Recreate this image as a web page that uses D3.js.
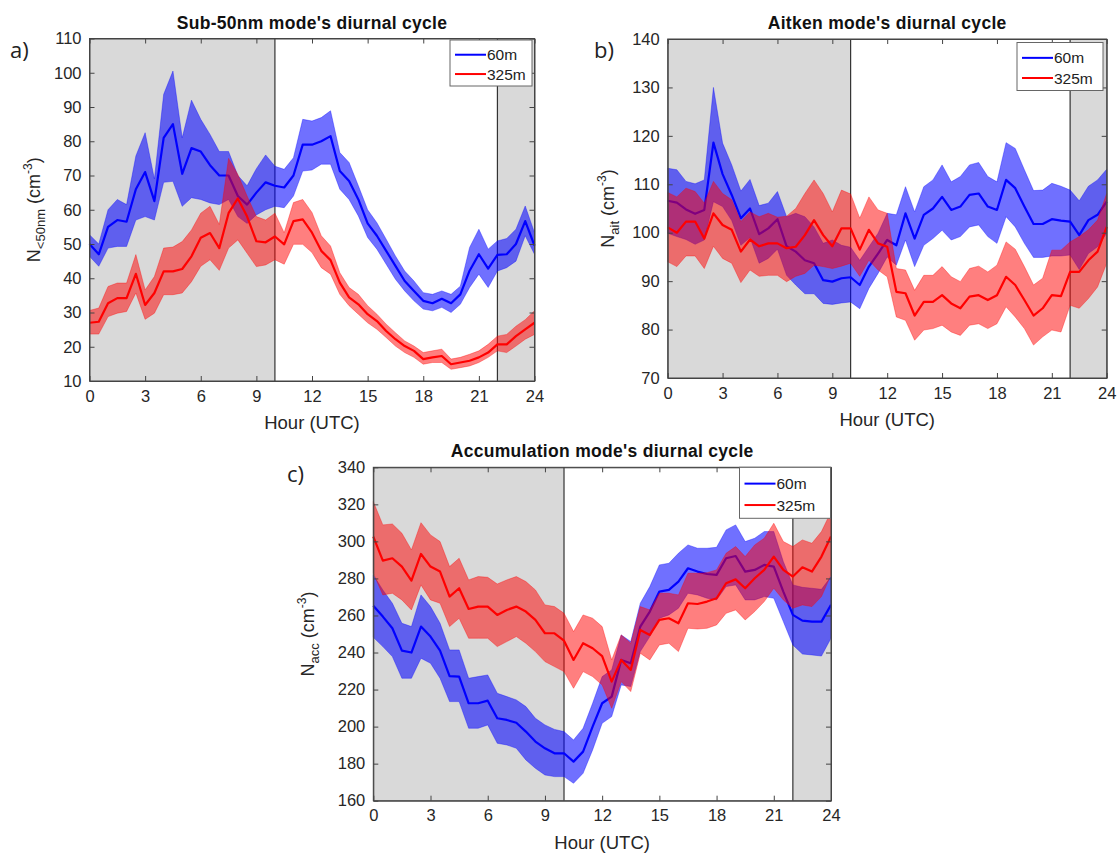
<!DOCTYPE html>
<html>
<head>
<meta charset="utf-8">
<script src="https://cdn.jsdelivr.net/npm/d3@7"></script>
<style>
  body { margin: 0; background: #fff; }
  svg { font-family: "Liberation Sans", Arial, sans-serif; }
</style>
</head>
<body>
<div id="chart"></div>
<script>
// half-hourly diurnal cycles, hour axis
var hours = [0, 0.5, 1, 1.5, 2, 2.5, 3, 3.5, 4, 4.5, 5, 5.5, 6, 6.5, 7, 7.5, 8, 8.5, 9, 9.5, 10,
  10.5, 11, 11.5, 12, 12.5, 13, 13.5, 14, 14.5, 15, 15.5, 16, 16.5, 17, 17.5, 18, 18.5, 19, 19.5,
  20, 20.5, 21, 21.5, 22, 22.5, 23, 23.5, 24];
var hourTicks = [0, 3, 6, 9, 12, 15, 18, 21, 24];
var nightSpans = [[0, 10], [22, 24]];
var seriesNames = ["60m", "325m"];

// a) sub-50nm
var sub50Low60 = [50, 47, 55, 57, 56.5, 66, 71, 62.5, 81, 85, 70.5, 78, 77, 73, 70, 70, 64, 61.5, 65, 68, 67,
  66.5, 70, 79, 79, 80, 81.5, 71.3, 68.4, 63, 56, 52.4, 48, 43.6, 39.2, 36.3, 33.4, 32.7, 34, 32.7, 35.3, 42.2, 47, 42.8, 46.8, 47, 50, 56.7, 49.5];
var sub50Low60Hi = [52.7, 50, 60, 63, 61.5, 75.7, 82.5, 69, 93.7, 100.5, 81, 92, 86.4, 82, 77, 77, 70, 67, 72, 76, 72.7,
  71.8, 75.2, 86.4, 85.9, 86.9, 88.9, 76.7, 73.8, 67, 60, 56.2, 51.4, 46.5, 42.1, 39.2, 35.8, 35.3, 36.3, 35.3, 37.7, 49, 54.3, 48.5, 50.9, 51.6, 54.3, 61.1, 53.3];
var sub50Low60Lo = [46.4, 43.5, 48.8, 49.3, 49.3, 57, 58, 57, 68, 68.3, 61, 63.5, 63, 62, 61.5, 63, 58, 56, 58.5, 60, 61,
  60.6, 64, 71.3, 71.6, 73.3, 73.3, 66, 63, 58.2, 51.9, 48.5, 44.1, 39.7, 36.3, 33.4, 31, 30.5, 31.5, 30, 32.4, 37.3, 41.2, 37.3, 42.1, 43.1, 45, 52.4, 47];
var sub50High325 = [27, 27.3, 32.7, 34.2, 34.2, 41.3, 32.2, 35.7, 42, 42, 42.7, 46.4, 51.8, 53.2, 48.8, 59, 63.3, 58, 50.8, 50.5, 52.2,
  49.9, 56.7, 57.2, 53.3, 48, 45.3, 38.7, 34.4, 32.4, 29.5, 27.5, 24.6, 22.2, 20.2, 18.8, 16.4, 16.9, 17.3, 14.9, 15.4, 15.9, 16.9, 18.3, 20.7, 20.7, 23.1, 25.1, 27];
var sub50High325Hi = [30.6, 31.3, 37.6, 38.6, 38.6, 46.9, 36.6, 40.5, 48.8, 49.1, 50.7, 54.1, 59, 61, 55.7, 75, 70.3, 64, 58, 57, 59,
  53.3, 62.1, 63, 59.2, 52.4, 49.4, 41.6, 37.3, 35.3, 32, 29.5, 26.6, 24.1, 21.7, 20.2, 18.3, 18.8, 19.3, 16.4, 16.9, 17.8, 18.8, 20.7, 23.1, 23.6, 26, 27.9, 30.5];
var sub50High325Lo = [23.7, 23.7, 28.8, 29.8, 30.3, 35.7, 28, 29.8, 35.2, 35.2, 35.7, 39, 43.5, 45.4, 42.3, 48.8, 51.2, 47.3, 43.4, 43.9, 45.4,
  44.1, 49.9, 49.9, 47.5, 43.1, 41.2, 35.3, 32, 29.5, 27, 25.1, 22.7, 20.2, 18.3, 16.9, 14.9, 15.4, 15.4, 13.4, 13.9, 14.4, 15.4, 16.9, 18.8, 18.3, 20.2, 22.2, 23.6];

// b) Aitken
var aitLow60 = [106.6, 106.2, 104.8, 103.9, 104.7, 118.6, 112.1, 107.8, 103, 105, 99.7, 100.9, 102.8, 97.2, 96.1, 94.3, 93.7, 90.2, 89.9, 90.6, 90.8,
  89.2, 93, 95.7, 98.5, 97.4, 104, 98.8, 103.7, 105, 107.4, 104.7, 105.4, 107.8, 108.1, 105.4, 104.7, 110.9, 109.2, 105.4, 101.8, 101.8, 102.8, 102.5, 102.3, 99.5, 102.6, 103.7, 106.4];
var aitLow60Hi = [113.3, 113, 110.6, 110.1, 110.9, 130, 118.5, 114, 108.6, 111, 105.6, 106.1, 108.5, 103.3, 104, 103.3, 101.2, 97.8, 98.5, 97.4, 97,
  94.3, 97.1, 99.9, 104, 103.7, 109.5, 104.3, 109.5, 110.9, 114, 110.5, 111.6, 114, 114.5, 111.6, 110.5, 118.6, 117.4, 113, 108.7, 108.8, 110.2, 109.6, 108.8, 106.6, 109.6, 110.9, 113.1];
var aitLow60Lo = [99.9, 99.2, 98.6, 97.6, 98.5, 106.4, 105.4, 102.5, 97.4, 99, 93.7, 94.7, 96.6, 91.2, 89.2, 87.4, 87.4, 85.4, 85.2, 85.5, 85.7,
  84.3, 88.5, 91.6, 95, 93.3, 98.5, 93, 97.4, 98.8, 100.5, 98.5, 99.2, 101.2, 101.6, 99.2, 97.8, 103.3, 101.2, 97.8, 94.9, 94.9, 95.2, 95.2, 95.4, 92.4, 95.7, 97.1, 99.9];
var aitHigh325 = [101.1, 100, 102.3, 102.3, 98.8, 104, 101.6, 100.6, 96.1, 98.6, 97.2, 97.8, 97.8, 96.8, 97.1, 99.5, 102.6, 99.5, 97.2, 100.9, 100.9,
  96.5, 100.6, 97.8, 97.1, 87.8, 87.5, 82.9, 85.7, 85.7, 87.1, 85.4, 84.4, 86.8, 87.1, 86.1, 87.1, 90.9, 89.2, 86.1, 82.9, 84.4, 87.1, 86.9, 91.9, 91.9, 94.3, 96.1, 101.2];
var aitHigh325Hi = [108.3, 107.4, 109.2, 108.5, 106.1, 110.6, 108.1, 106.8, 102.3, 104.3, 103.3, 104, 103.2, 103.4, 105, 108.1, 110.9, 108.1, 104.3, 108.8, 108,
  103, 107.4, 104.7, 104, 92.6, 92.3, 88.1, 91.2, 91.2, 93, 90.9, 89.9, 92.6, 93.1, 91.9, 93.3, 98.1, 96.6, 93, 89.2, 90.6, 96.4, 96.4, 98.1, 99.2, 100.6, 102.6, 108.1];
var aitHigh325Lo = [94, 93, 95.2, 95.2, 92.6, 97.2, 94.7, 93.7, 89.7, 92.3, 91, 91.2, 91.2, 89.9, 91, 91.6, 93.3, 93, 92.6, 93.1, 93.7,
  91, 94.3, 92.3, 90.9, 82.6, 81.9, 77.8, 79.9, 80.2, 80.9, 79.5, 78.8, 80.9, 81.2, 80.2, 81.2, 84.7, 82.6, 80.2, 76.8, 78.5, 79.9, 79.5, 85, 84.4, 86.4, 88.8, 93.7];

// c) accumulation
var accLow60 = [265.3, 259.4, 253.1, 241, 240, 254, 248.6, 241, 227.3, 227, 212.6, 212.6, 214, 204.5, 203.6, 202.1, 197.3, 191.9, 188.3, 185.6, 185.6,
  181.1, 186.5, 200, 212.6, 216.2, 236, 234.2, 254, 262.1, 272.9, 273.8, 278.3, 285.5, 283.7, 282.4, 281.9, 290.9, 292.1, 283.7, 284.6, 287.3, 286.4, 272.9, 260.3, 257.2, 256.7, 256.7, 265.7];
var accLow60Hi = [281.9, 273.8, 266.6, 255.8, 254, 271.1, 264.8, 255.8, 241.4, 241.4, 226.1, 227, 227.9, 218, 216.2, 214.4, 210.8, 204.5, 200.9, 198.5, 197.3,
  192.8, 199.1, 212.6, 227, 230.6, 249.5, 245.9, 266.6, 275.6, 287.3, 288.2, 293.6, 298.1, 296.3, 296.3, 296.8, 306.2, 308.9, 299.9, 301.7, 305.3, 305.3, 289.1, 276.5, 275.2, 274.7, 274.1, 281];
var accLow60Lo = [248.2, 243.2, 237.8, 226.1, 226.1, 236.9, 234.2, 226.1, 213.5, 213.5, 199.1, 199.1, 200.9, 191, 190.1, 188.3, 182, 177.5, 173.9, 173, 173,
  169.4, 174.8, 187.4, 201.8, 205.4, 222.5, 221.6, 240.5, 248.6, 258.5, 260.3, 263.9, 272, 271.1, 269.3, 268.4, 275.6, 276.5, 268.4, 268.4, 270.2, 269.3, 256.7, 244.1, 239.2, 238.7, 238.1, 247.7];
var accHigh325 = [302.6, 289.6, 290.9, 286.4, 278.8, 293.2, 286.4, 283.7, 270.2, 274.7, 263.5, 264.8, 264.8, 260.3, 263, 264.8, 262.1, 257.6, 250.4, 250.4, 246.4,
  236, 245, 242.3, 238.1, 224.3, 236, 230.6, 252.2, 249.5, 257.6, 258.5, 255.8, 266.6, 266.2, 267.5, 269.3, 277.4, 279.5, 274.7, 280.1, 284.6, 291.8, 284.6, 281, 286, 283.7, 291.8, 302.6];
var accHigh325Hi = [321.5, 308.9, 309.4, 304.4, 295.4, 310.1, 303.5, 299.9, 286.4, 290.9, 279.2, 281, 280.6, 277, 279.2, 281, 278.3, 273.8, 265.7, 264.8, 261.2,
  251.3, 260.3, 258.5, 254, 236, 249.5, 245, 264.8, 263, 272, 272, 271.1, 282.8, 282.8, 283.1, 284.6, 293.6, 297.2, 291.8, 298.1, 301.7, 309.8, 299.9, 297.2, 300.8, 299, 305.3, 316];
var accHigh325Lo = [282.8, 271.1, 272, 268.4, 263, 276.5, 268.4, 266.6, 254, 258.5, 247.7, 247.7, 247.7, 243.2, 245.9, 248.6, 245, 240.5, 235.1, 232.4, 229.7,
  220.7, 229.7, 227, 222.5, 209.9, 224.3, 218.9, 239.6, 236, 244.1, 245, 240.5, 253.1, 252.7, 253.1, 254.9, 261.2, 263, 257.6, 262.1, 267.5, 274.7, 268.4, 263.9, 265.7, 264.8, 270.2, 281.9];

var sub50Ticks = [10, 20, 30, 40, 50, 60, 70, 80, 90, 100, 110];
var aitTicks = [70, 80, 90, 100, 110, 120, 130, 140];
var accTicks = [160, 180, 200, 220, 240, 260, 280, 300, 320, 340];

var colors = ["#0000ff", "#ff0000"];
var bandOpacity = [0.56, 0.5];

var svg = d3.select("#chart").append("svg")
  .attr("width", 1118)
  .attr("height", 859);

var panels = [
  { tag: "a)", tagX: 10, tagY: 58, title: "Sub-50nm mode's diurnal cycle",
    left: 89.5, right: 534.5, top: 38.5, bottom: 381, ticks: sub50Ticks,
    ylab: ["N", "<50nm"], ylabX: 40,
    legend: { x: 450, y: 40, w: 82, h: 46 },
    series: [[sub50Low60, sub50Low60Lo, sub50Low60Hi], [sub50High325, sub50High325Lo, sub50High325Hi]] },
  { tag: "b)", tagX: 594, tagY: 58, title: "Aitken mode's diurnal cycle",
    left: 667.7, right: 1106.7, top: 39, bottom: 378, ticks: aitTicks,
    ylab: ["N", "ait"], ylabX: 614,
    legend: { x: 1017, y: 42.5, w: 86, h: 48 },
    series: [[aitLow60, aitLow60Lo, aitLow60Hi], [aitHigh325, aitHigh325Lo, aitHigh325Hi]] },
  { tag: "c)", tagX: 287, tagY: 482, title: "Accumulation mode's diurnal cycle",
    left: 373.3, right: 831, top: 467.3, bottom: 800.7, ticks: accTicks,
    ylab: ["N", "acc"], ylabX: 314,
    legend: { x: 739.5, y: 467.3, w: 91, h: 51 },
    series: [[accLow60, accLow60Lo, accLow60Hi], [accHigh325, accHigh325Lo, accHigh325Hi]] }
];

panels.forEach(function(p) {
  var x = d3.scaleLinear().domain([0, 24]).range([p.left, p.right]);
  var y = d3.scaleLinear().domain([p.ticks[0], p.ticks[p.ticks.length - 1]]).range([p.bottom, p.top]);
  var g = svg.append("g");

  // night shading
  nightSpans.forEach(function(s) {
    g.append("rect")
      .attr("x", x(s[0])).attr("y", p.top)
      .attr("width", x(s[1]) - x(s[0])).attr("height", p.bottom - p.top)
      .attr("fill", "#d9d9d9");
  });
  [10, 22].forEach(function(h) {
    g.append("line")
      .attr("x1", x(h)).attr("x2", x(h))
      .attr("y1", p.top).attr("y2", p.bottom)
      .attr("stroke", "#333").attr("stroke-width", 1.2);
  });

  // bands and means
  p.series.forEach(function(s, i) {
    var area = d3.area()
      .x(function(d, k) { return x(hours[k]); })
      .y0(function(d, k) { return y(s[1][k]); })
      .y1(function(d, k) { return y(s[2][k]); });
    g.append("path").datum(s[0])
      .attr("d", area)
      .attr("fill", colors[i])
      .attr("fill-opacity", bandOpacity[i])
      .attr("stroke", colors[i])
      .attr("stroke-opacity", 0.35)
      .attr("stroke-width", 1);
    var line = d3.line()
      .x(function(d, k) { return x(hours[k]); })
      .y(function(d) { return y(d); });
    g.append("path").datum(s[0])
      .attr("d", line)
      .attr("fill", "none")
      .attr("stroke", colors[i])
      .attr("stroke-width", 2.2)
      .attr("stroke-linejoin", "round");
  });

  // axes
  var bottomAxis = d3.axisBottom(x).tickValues(hourTicks).tickSizeInner(-5).tickSizeOuter(0).tickPadding(9);
  var topAxis = d3.axisTop(x).tickValues(hourTicks).tickSizeInner(-5).tickSizeOuter(0).tickFormat("");
  var leftAxis = d3.axisLeft(y).tickValues(p.ticks).tickSizeInner(-5).tickSizeOuter(0).tickPadding(8);
  var rightAxis = d3.axisRight(y).tickValues(p.ticks).tickSizeInner(-5).tickSizeOuter(0).tickFormat("");

  [[bottomAxis, "translate(0," + p.bottom + ")"], [topAxis, "translate(0," + p.top + ")"],
   [leftAxis, "translate(" + p.left + ",0)"], [rightAxis, "translate(" + p.right + ",0)"]].forEach(function(a) {
    var ax = g.append("g").attr("transform", a[1]).call(a[0]);
    ax.select(".domain").attr("stroke", "#444");
    ax.selectAll(".tick line").attr("stroke", "#444");
    ax.selectAll("text").attr("fill", "#262626").style("font-size", "16.5px")
      .style("font-family", "Liberation Sans, Arial, sans-serif");
  });

  g.append("rect")
    .attr("x", p.left).attr("y", p.top)
    .attr("width", p.right - p.left).attr("height", p.bottom - p.top)
    .attr("fill", "none").attr("stroke", "#444").attr("stroke-width", 1);

  // titles and labels
  g.append("text")
    .attr("x", (p.left + p.right) / 2).attr("y", p.top - 10)
    .attr("text-anchor", "middle")
    .style("font-size", "17.5px").style("font-weight", "bold")
    .style("letter-spacing", "0.3px")
    .attr("fill", "#111")
    .text(p.title);

  g.append("text")
    .attr("x", (p.left + p.right) / 2).attr("y", p.bottom + 48)
    .attr("text-anchor", "middle")
    .style("font-size", "18.5px").attr("fill", "#262626")
    .text("Hour (UTC)");

  var yl = g.append("text")
    .attr("transform", "translate(" + p.ylabX + "," + ((p.top + p.bottom) / 2) + ") rotate(-90)")
    .attr("text-anchor", "middle")
    .style("font-size", "18px").attr("fill", "#262626");
  yl.append("tspan").text(p.ylab[0]);
  yl.append("tspan").attr("dy", 5).style("font-size", "13px").text(p.ylab[1]);
  yl.append("tspan").attr("dy", -5).text(" (cm");
  yl.append("tspan").attr("dy", -8).style("font-size", "12px").text("-3");
  yl.append("tspan").attr("dy", 8).text(")");

  g.append("text")
    .attr("x", p.tagX).attr("y", p.tagY)
    .style("font-size", "22px").style("font-family", "Open Sans, sans-serif")
    .attr("fill", "#222")
    .text(p.tag);

  // legend
  var L = p.legend;
  var lg = g.append("g");
  lg.append("rect")
    .attr("x", L.x).attr("y", L.y).attr("width", L.w).attr("height", L.h)
    .attr("fill", "#fff").attr("stroke", "#666").attr("stroke-width", 1);
  seriesNames.forEach(function(name, i) {
    var ry = L.y + L.h * (0.32 + 0.42 * i);
    lg.append("line")
      .attr("x1", L.x + 5).attr("x2", L.x + 36)
      .attr("y1", ry).attr("y2", ry)
      .attr("stroke", colors[i]).attr("stroke-width", 2);
    lg.append("text")
      .attr("x", L.x + 37).attr("y", ry + 5.5)
      .style("font-size", "15.5px").attr("fill", "#222")
      .text(name);
  });
});
</script>
</body>
</html>
